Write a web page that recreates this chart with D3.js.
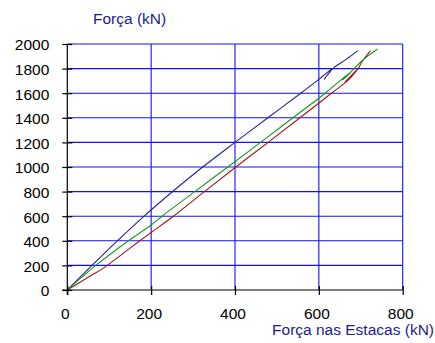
<!DOCTYPE html>
<html>
<head>
<meta charset="utf-8">
<script src="https://cdn.jsdelivr.net/npm/d3@7"></script>
<style>
  html, body { margin: 0; padding: 0; background: #fff; }
  svg { display: block; }
  text { font-family: "Liberation Sans", Arial, sans-serif; }
</style>
</head>
<body>
<svg id="chart" width="435" height="343"></svg>
<script>
// ---- data (x = Força nas Estacas (kN), y = Força (kN)) ----
const xTicks = [0, 200, 400, 600, 800];
const yTicks = [0, 200, 400, 600, 800, 1000, 1200, 1400, 1600, 1800, 2000];

const blueX = [0, 60, 120, 180, 240, 320, 400, 480, 560, 600, 632, 626, 619, 613, 620, 628, 636, 665, 693];
const blueY = [0, 204, 402, 591, 768, 992, 1200, 1404, 1608, 1712, 1800, 1772, 1742, 1714, 1748, 1780, 1808, 1875, 1946];

const greenX = [0, 34, 68, 146, 200, 226, 304, 383, 461, 538, 615, 650, 676, 668, 657, 666, 678, 705, 740];
const greenY = [0, 102, 200, 400, 528, 600, 800, 1000, 1200, 1400, 1600, 1700, 1772, 1742, 1708, 1740, 1778, 1870, 1959];

const redX = [0, 43, 86, 130, 173, 200, 253, 327, 402, 479, 555, 630, 672, 693, 678, 662, 677, 694, 700, 708, 716, 723, 719];
const redY = [0, 90, 178, 290, 400, 468, 600, 800, 1000, 1200, 1400, 1600, 1712, 1800, 1745, 1690, 1740, 1800, 1840, 1880, 1915, 1945, 1930];

const yTitle = "Força (kN)";
const xTitle = "Força nas Estacas (kN)";

// ---- chart ----
const svg = d3.select("#chart");
const x = d3.scaleLinear().domain([0, 800]).range([67.3, 402.7]);
const y = d3.scaleLinear().domain([0, 2000]).range([290, 44]);

const grid = svg.append("g");
grid.selectAll("line.h").data(yTicks.filter(d => d > 0)).join("line")
  .attr("x1", x(0)).attr("x2", x(800))
  .attr("y1", d => y(d)).attr("y2", d => y(d))
  .attr("stroke", "#1010ff").attr("stroke-width", 1.1);
grid.selectAll("line.v").data(xTicks.filter(d => d > 0)).join("line")
  .attr("x1", d => x(d)).attr("x2", d => x(d))
  .attr("y1", y(0)).attr("y2", y(2000))
  .attr("stroke", "#1010ff").attr("stroke-width", 1.1);

// series
const line = d3.line().x(d => x(d[0])).y(d => y(d[1])).curve(d3.curveCatmullRom.alpha(0.5));
const series = [
  { xs: redX, ys: redY, color: "#a01818" },
  { xs: blueX, ys: blueY, color: "#22229c" },
  { xs: greenX, ys: greenY, color: "#1f961f" }
];
series.forEach(s => {
  svg.append("path")
    .datum(d3.zip(s.xs, s.ys))
    .attr("d", line)
    .attr("fill", "none")
    .attr("stroke", s.color)
    .attr("stroke-width", 1.1)
    .attr("stroke-linejoin", "round");
});

// axes
const yAxis = d3.axisLeft(y).tickValues(yTicks).tickSize(0).tickPadding(0).tickFormat(d3.format("d"));
const gy = svg.append("g").attr("transform", `translate(${x(0)},0)`).call(yAxis);
gy.select(".domain").remove();
gy.selectAll(".tick text")
  .attr("x", -18).attr("dy", "0.38em")
  .attr("font-size", "15.5px").attr("fill", "#000")
  .style("font-family", "'Liberation Sans', Arial, sans-serif");
gy.selectAll(".tick").append("line")
  .attr("x1", -5).attr("x2", 5).attr("stroke", "#000").attr("stroke-width", 1.2);

const xAxis = d3.axisBottom(x).tickValues(xTicks).tickSize(0).tickPadding(0).tickFormat(d3.format("d"));
const gx = svg.append("g").attr("transform", `translate(0,${y(0)})`).call(xAxis);
gx.select(".domain").remove();
gx.selectAll(".tick text")
  .attr("x", -2.5).attr("y", 29).attr("dy", 0)
  .attr("font-size", "15.5px").attr("fill", "#000")
  .style("font-family", "'Liberation Sans', Arial, sans-serif");
gx.selectAll(".tick").append("line")
  .attr("y1", -4).attr("y2", 5).attr("stroke", "#000").attr("stroke-width", 1.2);

// axis lines
svg.append("line").attr("x1", x(0)).attr("x2", x(0)).attr("y1", y(2000)).attr("y2", y(0) + 5)
  .attr("stroke", "#000").attr("stroke-width", 1.2);
svg.append("line").attr("x1", x(0) - 5).attr("x2", x(800)).attr("y1", y(0)).attr("y2", y(0))
  .attr("stroke", "#000").attr("stroke-width", 1.2);

// titles
svg.append("text").text(yTitle)
  .attr("x", 93).attr("y", 24)
  .attr("font-size", "15.5px").attr("fill", "#1c1c8e");
svg.append("text").text(xTitle)
  .attr("x", 434).attr("y", 335).attr("text-anchor", "end")
  .attr("font-size", "15.5px").attr("fill", "#1c1c8e");
</script>
</body>
</html>
